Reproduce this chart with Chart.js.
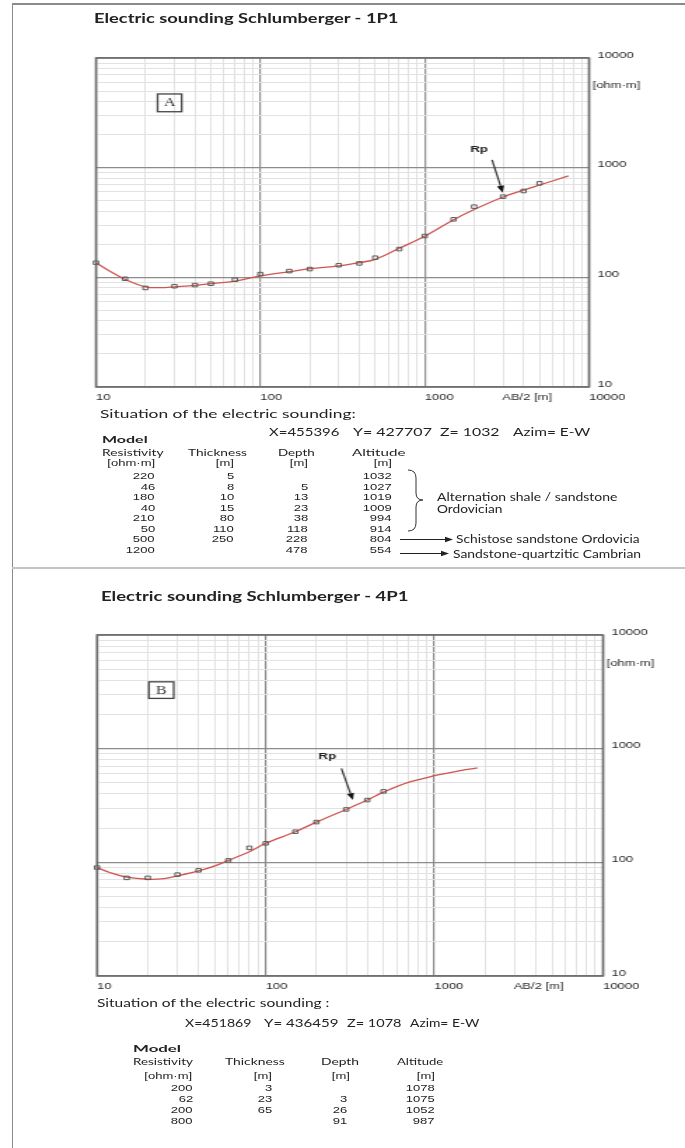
<!DOCTYPE html>
<html><head><meta charset="utf-8">
<script src="https://cdn.jsdelivr.net/npm/chart.js@4.4.1/dist/chart.umd.min.js"></script>
<style>
html,body{margin:0;padding:0;background:#fff;}
body{width:685px;height:1148px;position:relative;overflow:hidden;}
.t{position:absolute;white-space:nowrap;line-height:1;color:#222;}
canvas{position:absolute;left:0;}
.ln{position:absolute;background:#8a8a8a;}
</style></head><body>
<div class="ln" style="left:12px;top:3px;width:673px;height:1.5px"></div>
<div class="ln" style="left:11.5px;top:3px;width:1.5px;height:1145px"></div>
<div class="ln" style="left:12px;top:567px;width:673px;height:2px;background:#c4c4c4"></div>
<canvas id="cA" width="489" height="412" style="top:0;width:685px;height:412px"></canvas>
<canvas id="cB" width="489" height="425" style="top:575px;width:685px;height:425px"></canvas>
<svg style="position:absolute;left:0;top:0" width="685" height="1148">
  <path d="M408,470 Q416,470 416,478 L416,493 Q416,500 423,500 Q416,500 416,507 L416,523 Q416,531 408,531" fill="none" stroke="#333" stroke-width="1"/>
  <line x1="400" y1="539.5" x2="447" y2="539.5" stroke="#222" stroke-width="1"/>
  <polygon points="453,539.5 445,536.8 445,542.2" fill="#222"/>
  <line x1="400" y1="553.5" x2="443" y2="553.5" stroke="#222" stroke-width="1"/>
  <polygon points="449,553.5 441,550.8 441,556.2" fill="#222"/>
</svg>
<script>
// ---------- data: Panel A (sounding 1P1) ----------
const aSpacing = [10,15,20,30,40,50,70,100,150,200,300,400,500,700,1000,1500,2000,3000,4000,5000];
const aRhoApp  = [136,97,80,83,85,87.5,95,107,114,119,129,134,151,181,238,338,441,544,613,720];
const aModelSpacing = [10,12,15,20,25,30,40,50,70,100,150,200,300,400,500,700,1000,1500,2000,3000,4000,5000,7500];
const aModelRho     = [136,115,96,82,80.5,82,84.5,87.5,92.5,103,112.5,120,127,136,146,184,237,335,415,540,625,695,840];
// ---------- data: Panel B (sounding 4P1) ----------
const bSpacing = [10,15,20,30,40,60,80,100,150,200,300,400,500];
const bRhoApp  = [90,73,73,78,85,104,134,147,186,226,292,353,421];
const bModelSpacing = [10,12,15,20,25,30,40,50,60,80,100,150,200,300,400,500,700,1000,1400,1800];
const bModelRho     = [90,81,74,71,72,76,84,93,104,124,147,186,226,292,353,415,505,578,639,679];
// ---------- axes ----------
const axisDecades = [10,100,1000,10000];
const minorSteps = [2,3,4,5,6,7,8,9];
// ---------- model tables ----------
const aResistivity = ['220','46','180','40','210','50','500','1200'];
const aThickness   = ['5','8','10','15','80','110','250',''];
const aDepth       = ['','5','13','23','38','118','228','478'];
const aAltitude    = ['1032','1027','1019','1009','994','914','804','554'];
const bResistivity = ['200','62','200','800'];
const bThickness   = ['3','23','65',''];
const bDepth       = ['','3','26','91'];
const bAltitude    = ['1078','1075','1052','987'];

const CAL = 'Lato, "Open Sans", sans-serif';
const ARI = '"Liberation Sans", Arial, sans-serif';
const SX = 685/489;

function txt(s, o){
  const el = document.createElement('div');
  el.className = 't';
  el.textContent = s;
  el.style.font = `${o.weight||400} ${o.size}px ${o.family||CAL}`;
  el.style.color = o.color || '#222';
  document.body.appendChild(el);
  const w0 = el.offsetWidth, h0 = el.offsetHeight;
  const sx = o.w ? o.w / w0 : (o.sx || 1);
  el.style.top = (o.y - h0/2) + 'px';
  if (o.right !== undefined){
    el.style.left = (o.right - w0) + 'px';
    el.style.transformOrigin = 'right center';
  } else {
    el.style.left = o.x + 'px';
    el.style.transformOrigin = 'left center';
  }
  el.style.transform = `scaleX(${sx})`;
}

function buildTicks(){
  const out = [];
  axisDecades.forEach((d,i)=>{
    out.push({value:d, major:true});
    if (i < axisDecades.length-1) minorSteps.forEach(m=>out.push({value:d*m, major:false}));
  });
  return out;
}
const isMajor = v => axisDecades.includes(v);

const annotPlugin = {
  id:'annot',
  afterDraw(chart, _a, o){
    const {ctx, chartArea:a} = chart;
    const xs = chart.scales.x, ys = chart.scales.y;
    ctx.save();
    ctx.lineWidth = 1.6; ctx.strokeStyle = '#6a6a6a';
    ctx.strokeRect(a.left, a.top, a.right-a.left, a.bottom-a.top);
    const bx0 = xs.getPixelForValue(o.box.x0), bx1 = xs.getPixelForValue(o.box.x1);
    const by0 = ys.getPixelForValue(o.box.y0), by1 = ys.getPixelForValue(o.box.y1);
    ctx.lineWidth = 1.3; ctx.strokeStyle = '#444';
    ctx.strokeRect(bx0, by0, bx1-bx0, by1-by0);
    ctx.fillStyle = '#333'; ctx.font = '11.5px "Liberation Serif", serif';
    ctx.textAlign = 'center'; ctx.textBaseline = 'middle';
    ctx.fillText(o.box.text, (bx0+bx1)/2, (by0+by1)/2 + 0.5);
    const tx = xs.getPixelForValue(o.rp.tipX), ty = ys.getPixelForValue(o.rp.tipY);
    const sx = xs.getPixelForValue(o.rp.tailX), sy = ys.getPixelForValue(o.rp.tailY);
    const ang = Math.atan2(ty-sy, tx-sx), hl = 7, hw = 2.6;
    const hx = tx - hl*Math.cos(ang), hy = ty - hl*Math.sin(ang);
    ctx.strokeStyle = '#333'; ctx.lineWidth = 1.2;
    ctx.beginPath(); ctx.moveTo(sx,sy); ctx.lineTo(hx,hy); ctx.stroke();
    ctx.fillStyle = '#111';
    ctx.beginPath(); ctx.moveTo(tx,ty);
    ctx.lineTo(hx + hw*Math.sin(ang), hy - hw*Math.cos(ang));
    ctx.lineTo(hx - hw*Math.sin(ang), hy + hw*Math.cos(ang));
    ctx.closePath(); ctx.fill();
    ctx.font = `bold 9.5px ${ARI}`; ctx.fillStyle = '#222';
    ctx.fillText('Rp', xs.getPixelForValue(o.rp.labelX), ys.getPixelForValue(o.rp.labelY));
    ctx.font = `9.3px ${ARI}`; ctx.fillStyle = '#2a2a2a';
    ctx.fillText('AB/2 [m]', xs.getPixelForValue(o.abX), a.bottom + 10);
    ctx.textAlign = 'left';
    ctx.fillText('[ohm\u00b7m]', a.right + 2.6, ys.getPixelForValue(o.ohmY));
    ctx.restore();
  }
};

function makeChart(id, meas, measY, modX, modY, area, annot){
  const cv = document.getElementById(id);
  const W = cv.width, H = cv.height;
  const gridColor = c => (c.tick && isMajor(c.tick.value)) ? '#8c8c8c' : '#e2e2e2';
  const gridWidth = c => (c.tick && isMajor(c.tick.value)) ? 1.2 : 1;
  const tickCb = v => isMajor(v) ? String(v) : '';
  return new Chart(cv, {
    type:'line',
    data:{datasets:[
      {label:'apparent resistivity', data: meas.map((x,i)=>({x, y:measY[i]})),
       showLine:false, pointStyle:'rect', pointRadius:2.5, pointBorderWidth:1,
       pointBorderColor:'#5a5a5a', pointBackgroundColor:'rgba(255,255,255,0)', clip:false, order:0},
      {label:'model', data: modX.map((x,i)=>({x, y:modY[i]})),
       borderColor:'#cf5650', borderWidth:1.3, pointRadius:0, tension:0.35, fill:false, order:1}
    ]},
    options:{
      responsive:false, animation:false, devicePixelRatio:1,
      layout:{padding:{left:area.left, top:area.top, right:0, bottom:0}},
      plugins:{legend:{display:false}, tooltip:{enabled:false}, annot},
      scales:{
        x:{type:'logarithmic', position:'bottom', min:10, max:10000,
           afterBuildTicks:s=>{s.ticks = buildTicks();},
           afterFit:s=>{s.height = H - area.bottom;},
           grid:{color:gridColor, lineWidth:gridWidth, drawTicks:false},
           border:{display:false},
           ticks:{callback:tickCb, autoSkip:false, maxRotation:0, align:'start', padding:4.5,
                  color:'#2a2a2a', font:{family:ARI, size:9.3}}},
        y:{type:'logarithmic', position:'right', min:10, max:10000,
           afterBuildTicks:s=>{s.ticks = buildTicks();},
           afterFit:s=>{s.width = W - area.right;},
           grid:{color:gridColor, lineWidth:gridWidth, drawTicks:false},
           border:{display:false},
           ticks:{callback:tickCb, autoSkip:false, padding:6, labelOffset:-3,
                  color:'#2a2a2a', font:{family:ARI, size:9.3}}}
      }
    },
    plugins:[annotPlugin]
  });
}

makeChart('cA', aSpacing, aRhoApp, aModelSpacing, aModelRho,
  {left:96/SX, right:589/SX, top:58, bottom:387},
  {box:{x0:23.7, x1:33.2, y0:4700, y1:3236, text:'A'},
   rp:{tipX:2985, tipY:591, tailX:2570, tailY:1175, labelX:2143, labelY:1469},
   abX:4200, ohmY:5670});
makeChart('cB', bSpacing, bRhoApp, bModelSpacing, bModelRho,
  {left:97/SX, right:603/SX, top:60, bottom:401},
  {box:{x0:20.3, x1:28.5, y0:3873, y1:2768, text:'B'},
   rp:{tipX:329, tipY:353, tailX:281, tailY:671, labelX:232, labelY:849},
   abX:4150, ohmY:5660});

// ---------- Panel A texts ----------
txt('Electric sounding Schlumberger - 1P1', {x:94, y:17, size:14, weight:700, w:305});
txt('Situation of the electric sounding:', {x:100, y:413, size:11.6, w:256});
txt('X=455396', {x:269.3, y:431.7, size:11, w:70.7});
txt('Y= 427707', {x:353.3, y:431.7, size:11, w:78.4});
txt('Z= 1032', {x:440, y:431.7, size:11, w:59});
txt('Azim= E-W', {x:512.7, y:431.7, size:11, w:77.3});
txt('Model', {x:101.7, y:439, size:10.3, weight:700, w:45});
txt('Resistivity', {x:101.7, y:452.3, size:9.4, w:61.6});
txt('Thickness', {x:187.7, y:452.3, size:9.4, w:58.3});
txt('Depth', {x:278, y:452.3, size:9.4, w:37});
txt('Altitude', {x:351.7, y:452.3, size:9.4, w:53.3});
const aCols = [[aResistivity,155],[aThickness,234],[aDepth,308.3],[aAltitude,391.7]];
['[ohm\u00b7m]','[m]','[m]','[m]'].forEach((u,i)=>txt(u,{right:aCols[i][1], y:463.3, size:9.3, family:ARI, sx:1.4}));
aCols.forEach(([arr,r])=>arr.forEach((v,j)=>{ if(v) txt(v,{right:r, y:476+j*10.57, size:9.3, family:ARI, sx:1.4}); }));
txt('Alternation shale / sandstone', {x:437.3, y:496.3, size:10.7, w:180.4});
txt('Ordovician', {x:437.3, y:508.3, size:10.7, w:65.3});
txt('Schistose sandstone Ordovicia', {x:456, y:538, size:10.7, w:184});
txt('Sandstone-quartzitic Cambrian', {x:452.7, y:553.3, size:10.7, w:188.3});

// ---------- Panel B texts ----------
txt('Electric sounding Schlumberger - 4P1', {x:101, y:595, size:14, weight:700, w:308});
txt('Situation of the electric sounding :', {x:97.3, y:1002.7, size:11.6, w:232.7});
txt('X=451869', {x:185, y:1022.7, size:11, w:66.7});
txt('Y= 436459', {x:264, y:1022.7, size:11, w:74});
txt('Z= 1078', {x:347, y:1022.7, size:11, w:54});
txt('Azim= E-W', {x:410, y:1022.7, size:11, w:69.3});
txt('Model', {x:133.3, y:1047.7, size:10.3, weight:700, w:47.4});
txt('Resistivity', {x:133.3, y:1061.7, size:9.4, w:60});
txt('Thickness', {x:225, y:1061.7, size:9.4, w:59});
txt('Depth', {x:321, y:1061.7, size:9.4, w:38.3});
txt('Altitude', {x:396.7, y:1061.7, size:9.4, w:46});
const bCols = [[bResistivity,193.3],[bThickness,271.7],[bDepth,346.7],[bAltitude,435]];
['[ohm\u00b7m]','[m]','[m]','[m]'].forEach((u,i)=>txt(u,{right:[192,271.7,350,435][i], y:1076, size:9.3, family:ARI, sx:1.4}));
bCols.forEach(([arr,r])=>arr.forEach((v,j)=>{ if(v) txt(v,{right:r, y:1087.7+j*11, size:9.3, family:ARI, sx:1.4}); }));
</script>
</body></html>
